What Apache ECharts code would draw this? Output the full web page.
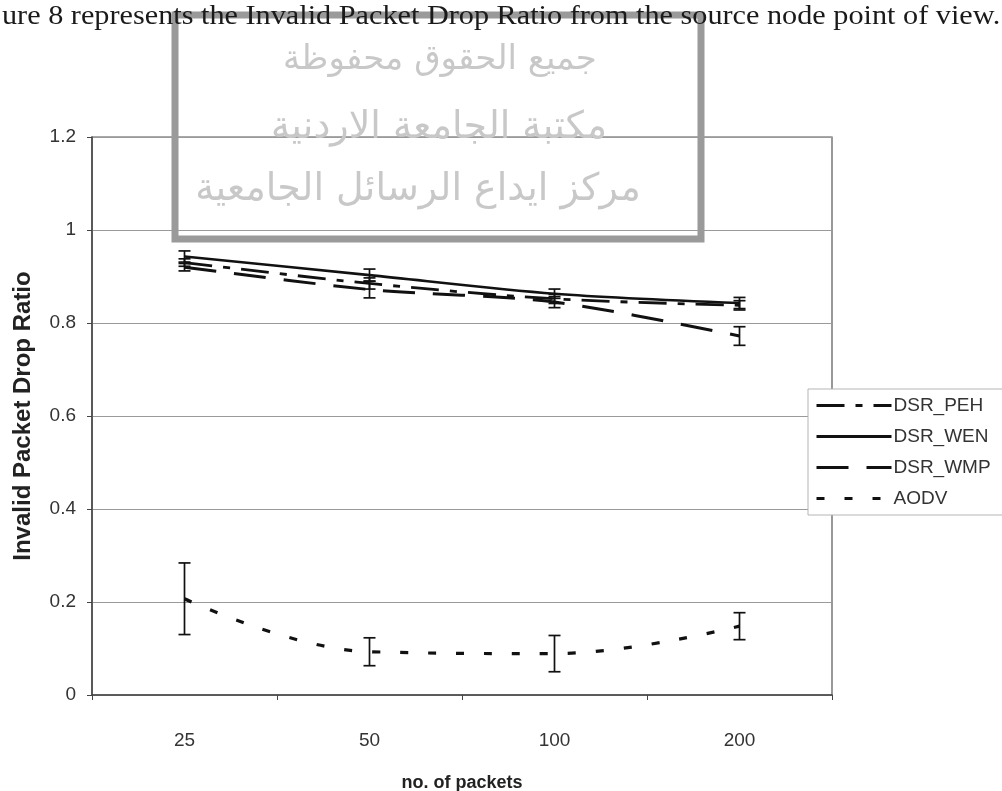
<!DOCTYPE html>
<html>
<head>
<meta charset="utf-8">
<script src="https://cdn.jsdelivr.net/npm/echarts@6/dist/echarts.min.js"></script>
<style>
html,body{margin:0;padding:0;background:#fff;}
#chart{width:1002px;height:791px;}
</style>
</head>
<body>
<div id="chart"></div>
<script>
// ---- data ----
const categories = ['25', '50', '100', '200'];
const seriesNames = ['DSR_PEH', 'DSR_WEN', 'DSR_WMP', 'AODV'];
const DSR_PEH = [0.930, 0.885, 0.852, 0.838];
const DSR_WEN = [0.943, 0.903, 0.863, 0.843];
const DSR_WMP = [0.920, 0.872, 0.845, 0.772];
const AODV    = [0.207, 0.093, 0.089, 0.148];
const DSR_PEH_err = [0.008, 0.012, 0.010, 0.010];
const DSR_WEN_err = [0.012, 0.013, 0.010, 0.012];
const DSR_WMP_err = [0.008, 0.018, 0.012, 0.020];
const AODV_err    = [0.077, 0.030, 0.039, 0.029];
const yTicks = [0, 0.2, 0.4, 0.6, 0.8, 1, 1.2];
const titleText = 'ure 8 represents the Invalid Packet Drop Ratio from the source node point of view.';
const watermarkLines = ['جميع الحقوق محفوظة', 'مكتبة الجامعة الاردنية', 'مركز ايداع الرسائل الجامعية'];

const chart = echarts.init(document.getElementById('chart'), null, {renderer: 'canvas'});

function errData(vals, errs) {
  return vals.map((v, i) => [i, v - errs[i], v + errs[i]]);
}
function errSeries(name, vals, errs) {
  return {
    type: 'custom',
    name: name + '_err',
    z: 5,
    silent: true,
    data: errData(vals, errs),
    renderItem: function (params, api) {
      const x = api.value(0);
      const lo = api.coord([x, api.value(1)]);
      const hi = api.coord([x, api.value(2)]);
      const hw = 6;
      const st = {stroke: '#111', lineWidth: 1.7};
      return {
        type: 'group',
        children: [
          {type: 'line', shape: {x1: lo[0], y1: lo[1], x2: hi[0], y2: hi[1]}, style: st},
          {type: 'line', shape: {x1: lo[0] - hw, y1: lo[1], x2: lo[0] + hw, y2: lo[1]}, style: st},
          {type: 'line', shape: {x1: hi[0] - hw, y1: hi[1], x2: hi[0] + hw, y2: hi[1]}, style: st}
        ]
      };
    }
  };
}
function lineSeries(name, vals, dash, width, smooth) {
  return {
    type: 'line',
    name: name,
    data: vals,
    symbol: 'none',
    smooth: smooth,
    z: 3,
    lineStyle: {color: '#111', width: width, type: dash, cap: 'butt'},
    itemStyle: {color: '#111'}
  };
}

const option = {
  backgroundColor: '#fff',
  animation: false,
  grid: {left: 92, right: 170, top: 137, bottom: 96, show: true, borderColor: '#555', borderWidth: 1.2,
    containLabel: false, outerBoundsMode: 'none'},
  xAxis: {
    type: 'category',
    data: categories,
    boundaryGap: true,
    name: 'no. of packets',
    nameLocation: 'middle',
    nameGap: 79,
    nameTextStyle: {fontFamily: 'Liberation Sans', fontWeight: 'bold', fontSize: 18, color: '#222'},
    axisLine: {lineStyle: {color: '#444', width: 1.5}},
    axisTick: {show: true, length: 5, inside: false, lineStyle: {color: '#444'}},
    axisLabel: {margin: 36, fontFamily: 'Liberation Sans', fontSize: 19, color: '#333'},
    splitLine: {show: false}
  },
  yAxis: {
    type: 'value',
    min: 0, max: 1.2, interval: 0.2,
    name: 'Invalid Packet Drop Ratio',
    nameLocation: 'middle',
    nameGap: 57,
    nameTextStyle: {fontFamily: 'Liberation Sans', fontWeight: 'bold', fontSize: 24, color: '#222'},
    axisLine: {show: true, lineStyle: {color: '#444', width: 1.5}},
    axisTick: {show: true, length: 5, lineStyle: {color: '#444'}},
    axisLabel: {margin: 16, fontFamily: 'Liberation Sans', fontSize: 19, color: '#333',
      formatter: v => { const t = yTicks.find(k => Math.abs(k - v) < 1e-9); return String(t !== undefined ? t : v); }},
    splitLine: {show: true, lineStyle: {color: '#9a9a9a', width: 1}}
  },
  legend: {
    data: seriesNames,
    orient: 'vertical',
    left: 808, top: 389,
    itemWidth: 75, itemHeight: 14, itemGap: 12,
    padding: [7, 200, 7, 7],
    backgroundColor: '#fff',
    borderColor: '#b5b5b5', borderWidth: 1,
    itemStyle: {opacity: 0},
    lineStyle: {width: 3},
    textStyle: {fontFamily: 'Liberation Sans', fontSize: 19, color: '#333', padding: [0, 0, 0, -3]},
    selectedMode: false
  },
  series: [
    lineSeries('DSR_PEH', DSR_PEH, [28, 11, 7, 11], 2.8, 0.3),
    lineSeries('DSR_WEN', DSR_WEN, 'solid', 2.6, 0.3),
    lineSeries('DSR_WMP', DSR_WMP, [32, 18], 3, 0.3),
    lineSeries('AODV', AODV, [8, 20], 3.2, 0.4),
    errSeries('DSR_PEH', DSR_PEH, DSR_PEH_err),
    errSeries('DSR_WEN', DSR_WEN, DSR_WEN_err),
    errSeries('DSR_WMP', DSR_WMP, DSR_WMP_err),
    errSeries('AODV', AODV, AODV_err)
  ],
  graphic: [
    {type: 'rect', z: 100, shape: {x: 175, y: 15, width: 526, height: 224},
      style: {fill: 'none', stroke: '#9a9a9a', lineWidth: 7}},
    {type: 'text', z: 101, x: 2, y: 3, scaleX: 1.08,
      style: {text: titleText, font: '28px "Liberation Serif"', fill: '#1a1a1a'}},
    {type: 'text', z: 99, x: 440, y: 60,
      style: {text: watermarkLines[0], font: '34px "DejaVu Sans"', fill: '#c8c8c8', align: 'center', verticalAlign: 'middle'}},
    {type: 'text', z: 99, x: 439, y: 128,
      style: {text: watermarkLines[1], font: '38px "DejaVu Sans"', fill: '#c8c8c8', align: 'center', verticalAlign: 'middle'}},
    {type: 'text', z: 99, x: 418, y: 190,
      style: {text: watermarkLines[2], font: '38px "DejaVu Sans"', fill: '#c8c8c8', align: 'center', verticalAlign: 'middle'}}
  ]
};
chart.setOption(option);
</script>
</body>
</html>
